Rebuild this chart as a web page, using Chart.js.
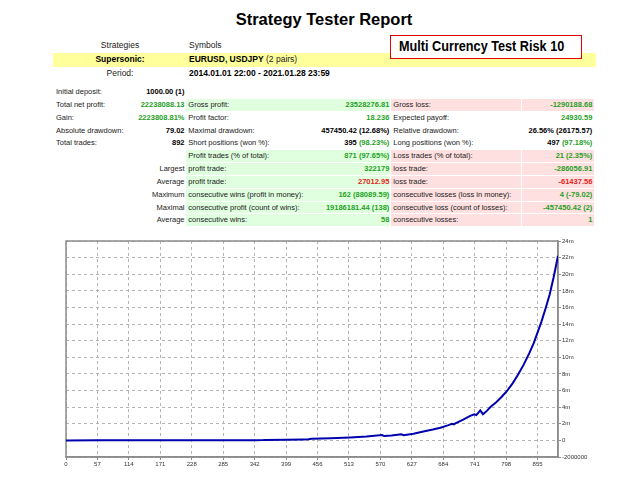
<!DOCTYPE html>
<html>
<head>
<meta charset="utf-8">
<script src="https://cdn.jsdelivr.net/npm/chart.js@4.4.1/dist/chart.umd.min.js"></script>
<style>
  body { margin: 0; width: 640px; height: 480px; background: #fff; position: relative; overflow: hidden;
         font-family: "Liberation Sans", Arial, sans-serif; color: #1a1a1a; }
  .abs { position: absolute; white-space: nowrap; }
  #title { left: 0; width: 648px; top: 9px; line-height: 20px; font-size: 16.5px; font-weight: bold; text-align: center; color: #000; }
  .hrow { position: absolute; left: 53px; width: 543px; font-size: 8.5px; }
  .hrow .k { position: absolute; left: 0; width: 134px; text-align: center; }
  .hrow .v { position: absolute; left: 136px; }
  #r1 { top: 39px; height: 13px; line-height: 13px; }
  #r2 { top: 53.3px; height: 13.4px; line-height: 13.4px; background: #ffff9c; }
  #r3 { top: 67px; height: 13px; line-height: 13px; }
  #note { left: 390px; top: 35px; width: 190px; height: 21.5px; border: 1.4px solid #e00000; background: #fff; z-index: 2; }
  #note span { position: absolute; left: 8px; top: 0; line-height: 21.5px; font-size: 14px; font-weight: bold; color: #000;
               transform: scaleX(0.905); transform-origin: left center; }
  #stats { position: absolute; left: 54px; top: 86px; display: grid;
           grid-template-columns: 80px 52px 124px 81px 131px 72px; grid-auto-rows: 12.85px; font-size: 7.5px; }
  #stats > div { box-sizing: border-box; border-bottom: 1px solid #fff; line-height: 11.85px; white-space: nowrap; }
  #stats > div:nth-child(6n+1) { padding-left: 2px; }
  #stats > div:nth-child(6n+2) { padding-right: 1.5px; text-align: right; }
  #stats > div:nth-child(6n+3) { padding-left: 2.3px; }
  #stats > div:nth-child(6n+4) { padding-right: 0.7px; text-align: right; border-right: 1px solid #fff; }
  #stats > div:nth-child(6n+5) { padding-left: 2.3px; border-right: 1px solid #fff; }
  #stats > div:nth-child(6n) { padding-right: 1.7px; text-align: right; }
  .g { background: #dfffdf; }
  .p { background: #ffe0e0; }
  .b { font-weight: bold; color: #000; }
  .gt { color: #1f9f1f; }
  .rt { color: #e41b1b; }
  #wrap { position: absolute; left: 0; top: 230px; width: 640px; height: 250px; }
</style>
</head>
<body>
<div id="title" class="abs">Strategy Tester Report</div>

<div id="r1" class="hrow"><span class="k">Strategies</span><span class="v">Symbols</span></div>
<div id="r2" class="hrow"><span class="k" style="font-weight:bold;color:#000">Supersonic:</span><span class="v"><b style="color:#000">EURUSD, USDJPY</b> (2 pairs)</span></div>
<div id="r3" class="hrow"><span class="k">Period:</span><span class="v" style="font-weight:bold;color:#000">2014.01.01 22:00 - 2021.01.28 23:59</span></div>
<div id="note" class="abs"><span>Multi Currency Test Risk 10</span></div>

<div id="stats">
  <div>Initial deposit:</div><div class="b">1000.00 (1)</div><div></div><div></div><div></div><div></div>

  <div>Total net profit:</div><div class="b gt">22238088.13</div>
  <div class="g">Gross profit:</div><div class="g b gt">23528276.81</div>
  <div class="p">Gross loss:</div><div class="p b gt">-1290188.68</div>

  <div>Gain:</div><div class="b gt">2223808.81%</div>
  <div>Profit factor:</div><div class="b gt">18.236</div>
  <div>Expected payoff:</div><div class="b gt">24930.59</div>

  <div>Absolute drawdown:</div><div class="b">79.02</div>
  <div>Maximal drawdown:</div><div class="b">457450.42 (12.68%)</div>
  <div>Relative drawdown:</div><div class="b">26.56% (26175.57)</div>

  <div>Total trades:</div><div class="b">892</div>
  <div>Short positions (won %):</div><div class="b">395 <span class="gt">(98.23%)</span></div>
  <div>Long positions (won %):</div><div class="b">497 <span class="gt">(97.18%)</span></div>

  <div></div><div></div>
  <div class="g">Profit trades (% of total):</div><div class="g b gt">871 (97.65%)</div>
  <div class="p">Loss trades (% of total):</div><div class="p b gt">21 (2.35%)</div>

  <div></div><div>Largest</div>
  <div class="g">profit trade:</div><div class="g b gt">322179</div>
  <div class="p">loss trade:</div><div class="p b gt">-286056.91</div>

  <div></div><div>Average</div>
  <div class="g">profit trade:</div><div class="g b rt">27012.95</div>
  <div class="p">loss trade:</div><div class="p b rt">-61437.56</div>

  <div></div><div>Maximum</div>
  <div class="g">consecutive wins (profit in money):</div><div class="g b gt">162 (88089.59)</div>
  <div class="p">consecutive losses (loss in money):</div><div class="p b gt">4 (-79.02)</div>

  <div></div><div>Maximal</div>
  <div class="g">consecutive profit (count of wins):</div><div class="g b gt">19186181.44 (138)</div>
  <div class="p">consecutive loss (count of losses):</div><div class="p b gt">-457450.42 (2)</div>

  <div></div><div>Average</div>
  <div class="g">consecutive wins:</div><div class="g b gt">58</div>
  <div class="p">consecutive losses:</div><div class="p b gt">1</div>
</div>

<div id="wrap"><canvas id="myChart"></canvas></div>

<script>
  // balance curve (trade number -> balance)
  const trades = [0, 57, 114, 171, 228, 285, 342, 358, 362, 399, 430, 440, 445, 480, 515, 545, 573, 577, 590, 608,
                  612, 630, 648, 665, 679, 692, 700, 703, 706, 720, 733, 740, 744, 751, 756, 763, 770, 780, 790, 800,
                  810, 820, 830, 840, 848, 855, 862, 870, 877, 884, 888, 892];
  const balance = [1000, 1900, 3500, 6500, 11000, 19000, 30000, 36000, 60000, 75000, 110000, 130000, 190000, 260000,
                   360000, 480000, 650000, 520000, 590000, 730000, 620000, 800000, 1080000, 1300000, 1520000, 1800000,
                   2000000, 1920000, 2050000, 2500000, 2950000, 3150000, 3050000, 3600000, 3150000, 3550000, 4050000,
                   4600000, 5250000, 6000000, 6900000, 7950000, 9150000, 10500000, 11700000, 13000000, 14300000,
                   16000000, 17600000, 19600000, 20900000, 22239088];
  const xStep = 57;
  const yMin = -2000000, yMax = 24000000, yStep = 2000000;

  const gridGrey = '#b4b4b4';
  const frameGrey = '#8c8c8c';

  // top and left edges of the plot box
  const frame = {
    id: 'frame',
    beforeDatasetsDraw(chart) {
      const {ctx, chartArea: a} = chart;
      ctx.save();
      ctx.strokeStyle = frameGrey;
      ctx.lineWidth = 1.5;
      ctx.strokeRect(a.left, a.top, a.right - a.left, a.bottom - a.top);
      ctx.restore();
    }
  };

  const config = {
    type: 'line',
    data: {
      datasets: [{
        data: trades.map((t, i) => ({x: t, y: balance[i]})),
        borderColor: 'rgb(0, 0, 175)',
        borderWidth: 2,
        pointRadius: 0,
        tension: 0
      }]
    },
    options: {
      responsive: true,
      maintainAspectRatio: false,
      animation: false,
      layout: { padding: { left: 66, top: 11, right: 0, bottom: 0 } },
      plugins: { legend: { display: false }, tooltip: { enabled: false } },
      scales: {
        x: {
          type: 'linear',
          min: 0,
          max: 892,
          afterFit: s => { s.height = 23; },
          grid: { color: gridGrey, lineWidth: 1, tickLength: 3, tickColor: frameGrey },
          border: { color: frameGrey, width: 1.5, dash: [3, 3] },
          ticks: { stepSize: xStep, includeBounds: false, autoSkip: false, maxRotation: 0,
                   padding: 1, color: '#333', font: { family: 'Liberation Sans', size: 6 } }
        },
        y: {
          position: 'right',
          min: yMin,
          max: yMax,
          afterFit: s => { s.width = 82; },
          grid: { color: gridGrey, lineWidth: 1, tickLength: 3, tickColor: frameGrey },
          border: { color: frameGrey, width: 1.5, dash: [3, 3] },
          ticks: { stepSize: yStep, padding: 1, color: '#333', font: { family: 'Liberation Sans', size: 6 },
                   callback: v => v === 0 ? '0' : (v < 0 ? String(v) : (v / 1000000) + 'm') }
        }
      }
    },
    plugins: [frame]
  };

  const myChart = new Chart(document.getElementById('myChart'), config);
</script>
</body>
</html>
